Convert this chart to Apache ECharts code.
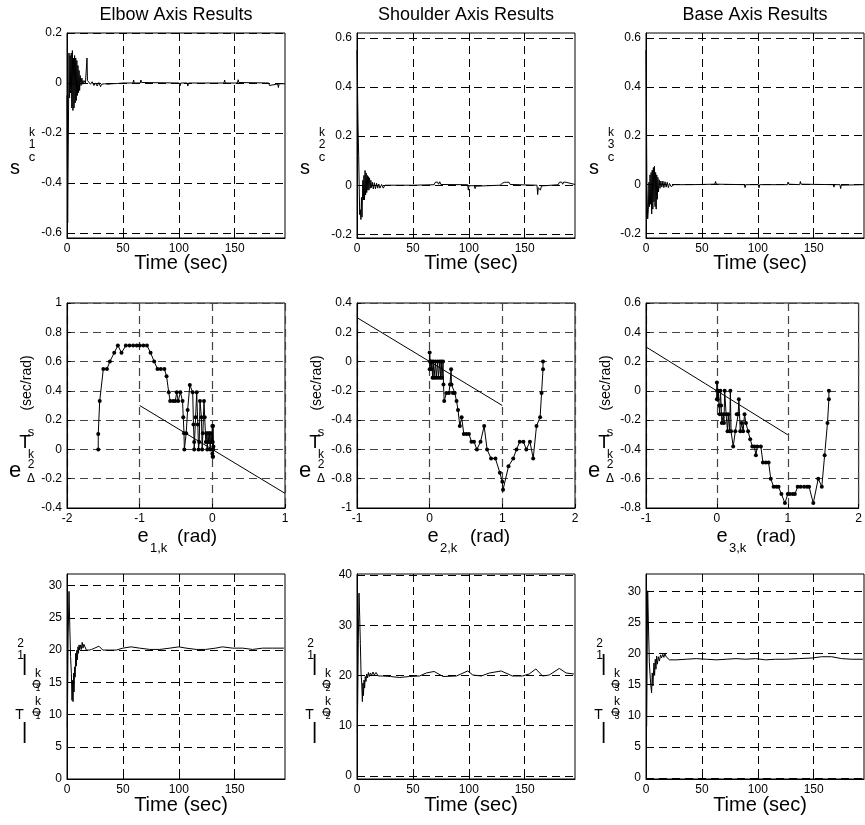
<!DOCTYPE html>
<html><head><meta charset="utf-8">
<script src="https://cdn.jsdelivr.net/npm/echarts@6/dist/echarts.min.js"></script>
<style>html,body{margin:0;padding:0;background:#fff}#c{width:865px;height:825px}</style>
</head><body><div id="c"></div>
<script>
// ---------- DATA ----------
const columnTitles = ['Elbow Axis Results', 'Shoulder Axis Results', 'Base Axis Results'];
const axisDigits = ['1', '2', '3'];

// Row 1: sliding surface s_c vs time
const elbowT = [0,0.6,1.8,2.3,2.8,3.3,3.8,4.3,4.8,5.3,5.8,6.3,6.8,7.3,7.8,8.3,8.8,9.3,9.8,10.3,10.8,11.3,11.8,12.5,13.3,14.2,15.2,16.5,17.5,17.9,18.3,19.5,21,22.5,24,25.5,27,28.5,30,31,32,33.5,35,37,40,45,50,59,59.6,60.2,65.5,66.1,66.7,100.5,101.1,101.7,107.5,108.1,108.7,140.4,141,141.6,152.5,153.1,153.7,180.5,181.1,181.7,188.5,189.1,189.7,195];
const elbowS = [-0.05,-0.56,0.12,-0.06,0.11,-0.04,0.12,-0.1,0.13,-0.11,0.1,-0.1,0.11,-0.08,0.1,-0.07,0.09,-0.05,0.07,-0.04,0.05,-0.03,0.03,-0.01,0.02,-0.005,0.01,0,0.005,0.1,0.01,0.008,-0.005,0.005,-0.01,0,-0.012,0.002,-0.015,-0.005,-0.012,-0.003,-0.008,-0.005,-0.003,-0.002,0,0,0.012,0,0,0.012,0.002,0,-0.012,0,0,-0.012,0,0,0.012,0,0,0.013,0.002,0,-0.01,-0.002,-0.004,-0.018,-0.003,-0.003];

const shoulderT = [0,0.9,1.5,2.4,3.0,3.5,4.0,4.5,5.2,5.7,6.2,6.7,7.2,7.7,8.2,8.7,9.2,9.7,10.2,10.7,11.2,11.8,12.4,13,13.8,14.6,15.5,16.5,17.5,18.5,19.5,20.5,22,23.5,25,26,28,50,69,70,71,72,73,74,75,99,99.6,100.2,101,105,105.6,106.2,128,130,131,132,133,134,135,136,137,161,161.6,162.2,163.5,164.1,165,180,181,182,183,184,185,186,187,188,195];
const shoulderS = [0.55,0.25,0.12,-0.12,-0.1,-0.14,-0.05,-0.13,0.02,-0.06,0.04,-0.06,0.06,-0.04,0.05,-0.03,0.04,-0.02,0.035,-0.02,0.03,-0.012,0.02,-0.01,0.012,-0.015,0.01,-0.015,0.008,-0.012,0.005,-0.012,0.003,-0.012,0,-0.008,0,0,0.002,0.012,0.004,0.013,0.004,0.014,0.003,0.002,-0.02,-0.002,0,-0.002,-0.014,-0.004,0,0.008,0.003,0.012,0.004,0.012,0.005,0.012,0.003,0,-0.038,-0.01,-0.004,-0.02,-0.003,0.002,0.012,0.004,0.013,0.004,0.013,0.005,0.012,0.004,0.003];

const baseT = [0,0.8,1.5,2.1,2.6,3.1,3.6,4.1,4.6,5.1,5.6,6.1,6.6,7.1,7.6,8.1,8.6,9.1,9.6,10.1,10.6,11.2,11.8,12.5,13.3,14.2,15.1,16,17,18,19,20,21,22.5,25,40,61.5,62.2,63,88,88.6,89.2,100.5,101.1,101.7,126.5,127.1,127.7,137.5,138.1,138.7,167.5,168.1,168.7,173.5,174.1,174.7,195];
const baseS = [0.55,0.0,-0.14,-0.1,0.01,-0.09,0.04,-0.08,0.05,-0.12,0.06,-0.1,0.07,-0.07,0.075,-0.09,0.05,-0.1,0.04,-0.06,0.03,-0.03,0.02,-0.015,0.015,-0.01,0.015,-0.012,0.012,-0.01,0.01,-0.012,0.005,-0.008,0,0,0.002,0.013,0.002,0,-0.012,0,0,-0.013,0,0,0.011,0.002,0,0.013,0.002,0,-0.01,0,0,-0.016,-0.002,0];

// Row 2: phase trajectories (e, rate) and the reference line
const elbowPhase = [[-1.57,0],[-1.57,0.106],[-1.55,0.33],[-1.50,0.55],[-1.45,0.55],[-1.41,0.60],[-1.35,0.66],[-1.30,0.71],[-1.25,0.66],[-1.19,0.71],[-1.14,0.71],[-1.09,0.71],[-1.04,0.71],[-1.00,0.71],[-0.95,0.71],[-0.90,0.71],[-0.85,0.66],[-0.80,0.60],[-0.755,0.55],[-0.71,0.55],[-0.66,0.55],[-0.63,0.50],[-0.60,0.39],[-0.58,0.33],[-0.54,0.33],[-0.51,0.33],[-0.49,0.39],[-0.47,0.33],[-0.44,0.39],[-0.41,0.33],[-0.40,0.22],[-0.39,0.11],[-0.385,0],[-0.36,0.11],[-0.34,0.27],[-0.31,0.44],[-0.27,0.39],[-0.26,0.17],[-0.25,0.05],[-0.25,0],[-0.23,0.22],[-0.215,0.39],[-0.20,0.17],[-0.19,0],[-0.18,0.05],[-0.17,0.33],[-0.15,0.22],[-0.14,0],[-0.13,0.11],[-0.115,0.33],[-0.105,0.22],[-0.09,0.05],[-0.08,0.11],[-0.07,0],[-0.06,0.11],[-0.05,0.05],[-0.04,0.11],[-0.03,0],[-0.02,0.11],[-0.01,0.05],[0,0.16],[0.005,0.05],[0.01,0.16],[0.015,0.02],[0.01,-0.05],[0,-0.03],[0.005,0],[0,0.05],[0.01,0],[0.005,-0.05],[0,0]];
const shoulderPhase = [[1.56,0],[1.56,-0.053],[1.54,-0.214],[1.52,-0.38],[1.47,-0.44],[1.425,-0.662],[1.38,-0.547],[1.33,-0.6],[1.29,-0.547],[1.24,-0.547],[1.195,-0.6],[1.15,-0.662],[1.085,-0.715],[1.01,-0.876],[1.0,-0.82],[0.966,-0.76],[0.905,-0.662],[0.845,-0.662],[0.79,-0.6],[0.75,-0.44],[0.70,-0.547],[0.65,-0.6],[0.61,-0.547],[0.575,-0.547],[0.54,-0.494],[0.505,-0.494],[0.47,-0.494],[0.44,-0.38],[0.415,-0.44],[0.39,-0.33],[0.37,-0.27],[0.345,-0.214],[0.32,-0.214],[0.30,-0.156],[0.295,-0.053],[0.28,-0.156],[0.265,-0.214],[0.23,-0.214],[0.2,-0.27],[0.19,-0.156],[0.184,0],[0.17,-0.11],[0.16,0],[0.15,-0.11],[0.14,0],[0.12,-0.11],[0.11,0],[0.09,-0.11],[0.08,0],[0.06,-0.11],[0.05,0],[0.04,-0.11],[0.03,0],[0.02,-0.05],[0.01,0],[0,-0.053],[0,0.062],[0.005,0]];
const basePhase = [[1.58,0],[1.58,-0.057],[1.56,-0.22],[1.52,-0.44],[1.48,-0.655],[1.43,-0.6],[1.36,-0.766],[1.3,-0.655],[1.27,-0.655],[1.23,-0.655],[1.18,-0.655],[1.14,-0.655],[1.1,-0.705],[1.07,-0.705],[1.03,-0.705],[1.0,-0.705],[0.96,-0.766],[0.91,-0.705],[0.87,-0.655],[0.84,-0.655],[0.8,-0.655],[0.76,-0.6],[0.73,-0.49],[0.69,-0.49],[0.65,-0.49],[0.62,-0.38],[0.57,-0.38],[0.55,-0.44],[0.53,-0.38],[0.5,-0.38],[0.47,-0.33],[0.44,-0.276],[0.41,-0.22],[0.39,-0.16],[0.37,-0.276],[0.35,-0.22],[0.33,-0.276],[0.31,-0.057],[0.3,-0.16],[0.28,-0.16],[0.26,-0.276],[0.23,-0.38],[0.2,-0.276],[0.19,0],[0.18,-0.276],[0.16,-0.16],[0.15,-0.276],[0.13,-0.16],[0.11,0],[0.1,-0.22],[0.09,-0.16],[0.07,-0.22],[0.06,-0.1],[0.05,0],[0.04,-0.16],[0.03,-0.1],[0.02,0],[0.01,-0.057],[0,0.057],[0,-0.057],[0.005,0]];
const refLineE = [-1, 1];
const refLineR = [0.3, -0.3];

// Row 3: T vs time
const elbowTT = [0.3,1.0,1.8,2.5,3.2,3.9,4.5,4.9,5.4,5.9,6.3,6.8,7.3,7.8,8.3,8.8,9.3,9.8,10.3,10.8,11.3,12,12.8,13.6,14.3,15.1,15.8,17.3,20,22,24.7,28.6,32,38,44,50,57.4,65,74,83,92,100,106.5,115.5,124,133,139,148,157,166,175,184,194];
const elbowTV = [8.1,22,29.1,23.6,19,16.4,12.2,15.3,12,16.4,13.5,17.4,15.8,19.5,17.5,20,18.5,20.5,19.5,20.8,20.0,20.8,20.1,21.2,20.3,20.9,20.6,20,20,20.1,20.3,20.6,20.0,20.0,20.0,20.3,20.5,20.3,20.1,20.1,20.3,20.5,20.3,20.1,20.1,20.3,20.5,20.3,20.3,20.1,20.3,20.3,20.3];
const shoulderTT = [0.3,1.2,1.8,2.4,3.0,3.6,4.2,4.8,5.3,5.8,6.3,6.8,7.4,8,8.7,9.4,10.2,11,12,13,14.3,15.5,17,19,23,30,38,47,56,62,69,77,89,99,103.6,111,118.5,129,139,148,154,160,166,172,181,187,194];
const shoulderTV = [8.5,27,36.4,31.8,26.4,20.5,18.5,14.8,18.5,16,19.1,17.5,19.8,18.8,20.3,19.5,20.6,19.8,20.5,20,20.7,20.1,20.6,19.9,19.9,19.8,19.6,19.8,19.9,20.5,20.8,19.8,19.9,20.9,20.1,19.9,20.5,20.9,19.9,19.9,20.3,21.3,19.9,20.1,21.4,20.5,20.3];
const baseTT = [0.6,1.5,2.1,3.0,4.1,5.0,5.6,6.2,7.1,7.7,8.3,8.9,9.5,10.2,11,12,13,13.9,15,16,16.9,18,19,21,27,36,45,54,63,72,80.5,89,98,107,116,125,137,148.5,157,166,175,184,194];
const baseTV = [8.3,30.1,25.3,18.5,15.3,13.7,16.9,14.8,18.5,16.5,19.1,17.5,19.6,18.3,19.5,18.8,19.8,19.3,19.9,19.4,20.0,19.5,19.2,19.0,19.0,19.1,19.2,19.1,19.0,19.1,19.2,19.1,19.2,19.0,19.1,19.1,19.2,19.3,19.5,19.5,19.2,19.1,19.1];

// Tick values
const timeTicks = [0, 50, 100, 150];
const sElbowTicks = [-0.6, -0.4, -0.2, 0, 0.2];
const sOtherTicks = [-0.2, 0, 0.2, 0.4, 0.6];
const eElbowTicks = [-2, -1, 0, 1];
const eOtherTicks = [-1, 0, 1, 2];
const rElbowTicks = [-0.4, -0.2, 0, 0.2, 0.4, 0.6, 0.8, 1];
const rShoulderTicks = [-1, -0.8, -0.6, -0.4, -0.2, 0, 0.2, 0.4];
const rBaseTicks = [-0.8, -0.6, -0.4, -0.2, 0, 0.2, 0.4, 0.6];
const tElbowTicks = [0, 5, 10, 15, 20, 25, 30];
const tShoulderTicks = [0, 10, 20, 30, 40];
const tBaseTicks = [0, 5, 10, 15, 20, 25, 30];

// ---------- LAYOUT ----------
const FONT = '"Liberation Sans", Arial, Helvetica, sans-serif';
const colLeft = [67, 357, 646];
const rowTop = [33, 303, 574];
const W = 218, H = 205;

const panels = [
  {x:[0,195], xt:timeTicks, y:[-0.62,0.2], yt:sElbowTicks},
  {x:[0,195], xt:timeTicks, y:[-0.215,0.62], yt:sOtherTicks},
  {x:[0,195], xt:timeTicks, y:[-0.218,0.62], yt:sOtherTicks},
  {x:[-2,1], xt:eElbowTicks, y:[-0.4,1], yt:rElbowTicks},
  {x:[-1,2], xt:eOtherTicks, y:[-1,0.4], yt:rShoulderTicks},
  {x:[-1,2], xt:eOtherTicks, y:[-0.8,0.6], yt:rBaseTicks},
  {x:[0,195], xt:timeTicks, y:[0,31.8], yt:tElbowTicks},
  {x:[0,195], xt:timeTicks, y:[-0.6,40.2], yt:tShoulderTicks},
  {x:[0,195], xt:timeTicks, y:[-0.15,32.8], yt:tBaseTicks}
];

const zip = (a, b) => a.map((v, i) => [v, b[i]]);

const grids = [], xAxes = [], yAxes = [], series = [];
panels.forEach((p, i) => {
  const r = Math.floor(i / 3), c = i % 3;
  const gridColor = r === 1 ? '#444' : '#000';
  grids.push({left: colLeft[c], top: rowTop[r], width: W, height: H, show: true,
    borderColor: '#000', borderWidth: 1, backgroundColor: '#fff'});
  const common = (ticks) => ({
    axisLine: {show: true, onZero: false, lineStyle: {color: '#000', width: 1}},
    axisTick: {show: true, inside: true, length: 4, customValues: ticks, lineStyle: {color: '#000'}},
    axisLabel: {customValues: ticks, color: '#000', fontFamily: FONT, fontSize: 12, margin: 5,
      showMinLabel: true, showMaxLabel: true},
    splitLine: {show: true, lineStyle: {color: gridColor, type: [8, 5], width: r === 1 ? 1.2 : 1}}
  });
  xAxes.push(Object.assign({gridIndex: i, type: 'value', min: p.x[0], max: p.x[1]}, common(p.xt)));
  yAxes.push(Object.assign({gridIndex: i, type: 'value', min: p.y[0], max: p.y[1]}, common(p.yt)));
});

const lineSeries = (i, data) => ({
  type: 'line', xAxisIndex: i, yAxisIndex: i, data, showSymbol: false, symbol: 'none',
  lineStyle: {color: '#000', width: 1}, silent: true, z: 3
});
const phaseSeries = (i, data) => ({
  type: 'line', xAxisIndex: i, yAxisIndex: i, data, symbol: 'circle', symbolSize: 4, showSymbol: true,
  itemStyle: {color: '#000'}, lineStyle: {color: '#000', width: 1}, silent: true, z: 3
});

series.push(lineSeries(0, zip(elbowT, elbowS)));
series.push(lineSeries(1, zip(shoulderT, shoulderS)));
series.push(lineSeries(2, zip(baseT, baseS)));
[elbowPhase, shoulderPhase, basePhase].forEach((d, k) => {
  series.push(lineSeries(3 + k, zip(refLineE, refLineR)));
  series.push(phaseSeries(3 + k, d));
});
series.push(lineSeries(6, zip(elbowTT, elbowTV)));
series.push(lineSeries(7, zip(shoulderTT, shoulderTV)));
series.push(lineSeries(8, zip(baseTT, baseTV)));

// ---------- TEXT ----------
const graphics = [];
function txt(x, y, text, size, extra) {
  graphics.push(Object.assign({
    type: 'text', x, y, silent: true,
    style: Object.assign({text, fill: '#000', fontFamily: FONT, fontSize: size,
      textAlign: 'center', textVerticalAlign: 'middle', align: 'center', verticalAlign: 'middle'},
      (extra && extra.style) || {})
  }, (extra && extra.el) || {}));
}
const LEFT = {style: {textAlign: 'left', align: 'left'}};
for (let c = 0; c < 3; c++) {
  const L = colLeft[c], dx = L - 67, mid = L + W / 2;
  txt(mid, 15, columnTitles[c], 18);
  txt(mid + 5, 263, 'Time (sec)', 20);
  txt(mid + 5, 805, 'Time (sec)', 20);
  // row 1 y label
  txt(15 + dx, 168, 's', 20);
  txt(32 + dx, 133, 'k', 12);
  txt(32 + dx, 145, axisDigits[c], 12);
  txt(32 + dx, 157, 'c', 13);
  // row 2 x label
  const ex = [143, 433, 722][c];
  txt(ex, 536, 'e', 20);
  txt(ex + 7, 548, axisDigits[c] + ',k', 13, LEFT);
  txt(ex + (c === 1 ? 37 : 34), 537, '(rad)', 19, LEFT);
  // row 2 y label
  txt(27 + dx, 383, '(sec/rad)', 14, {el: {rotation: Math.PI / 2}});
  txt(25 + dx, 443, 'T', 19);
  txt(31 + dx, 432, 's', 13);
  txt(15 + dx, 471, 'e', 22);
  txt(31 + dx, 455, 'k', 12);
  txt(31 + dx, 465, '2', 12);
  txt(31 + dx, 479, 'Δ', 12);
  // row 3 y label
  txt(20.5 + dx, 644, '2', 12);
  txt(20.5 + dx, 656, '1', 12);
  txt(24.5 + dx, 664, '|', 22);
  txt(38 + dx, 674, 'k', 12);
  txt(38 + dx, 684, 'Φ', 12, {el: {rotation: Math.PI / 2}});
  txt(38 + dx, 689, axisDigits[c], 9);
  txt(38 + dx, 702, 'k', 12);
  txt(38 + dx, 712, 'Φ', 12, {el: {rotation: Math.PI / 2}});
  txt(38 + dx, 717, axisDigits[c], 9);
  txt(19.5 + dx, 715, 'T', 14);
  txt(24.5 + dx, 732, '|', 22);
}

const chart = echarts.init(document.getElementById('c'), null, {renderer: 'canvas'});
chart.setOption({
  animation: false,
  backgroundColor: '#fff',
  grid: grids, xAxis: xAxes, yAxis: yAxes, series,
  graphic: {elements: graphics}
});
</script>
</body></html>
